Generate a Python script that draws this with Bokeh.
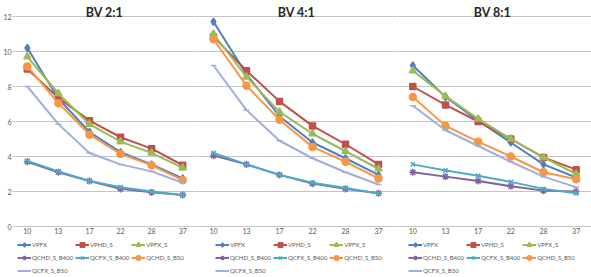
from bokeh.plotting import figure
from bokeh.layouts import row
from bokeh.models import FactorRange, Range1d, FixedTicker, Legend, LegendItem, Label
from bokeh.embed import file_html
from bokeh.resources import INLINE

# Categories along the x axis
depths = ["10", "13", "17", "22", "28", "37"]
y_ticks = [0, 2, 4, 6, 8, 10, 12]

# BV 2:1
vpfx_21 = [10.2, 7.3, 5.4, 4.25, 3.55, 2.75]
vphd_s_21 = [9.0, 7.35, 6.05, 5.1, 4.45, 3.5]
vpfx_s_21 = [9.7, 7.6, 5.85, 4.85, 4.2, 3.35]
qchd_s_b400_21 = [3.7, 3.1, 2.6, 2.15, 1.95, 1.8]
qcfx_s_b400_21 = [3.75, 3.15, 2.6, 2.25, 2.0, 1.8]
qchd_s_b50_21 = [9.15, 7.05, 5.25, 4.15, 3.5, 2.65]
qcfx_s_b50_21 = [8.0, 5.85, 4.2, 3.55, 3.15, 2.5]

# BV 4:1
vpfx_41 = [11.7, 8.7, 6.3, 4.8, 3.9, 2.95]
vphd_s_41 = [10.85, 8.9, 7.15, 5.75, 4.7, 3.55]
vpfx_s_41 = [11.0, 8.55, 6.55, 5.3, 4.3, 3.3]
qchd_s_b400_41 = [4.05, 3.55, 2.95, 2.45, 2.15, 1.9]
qcfx_s_b400_41 = [4.2, 3.55, 2.95, 2.5, 2.2, 1.88]
qchd_s_b50_41 = [10.7, 8.05, 6.1, 4.55, 3.7, 2.75]
qcfx_s_b50_41 = [9.2, 6.65, 4.9, 3.9, 3.1, 2.4]

# BV 8:1
vpfx_81 = [9.2, 7.4, 6.05, 4.8, 3.55, 2.8]
vphd_s_81 = [8.0, 6.95, 6.0, 5.0, 3.95, 3.25]
vpfx_s_81 = [8.9, 7.45, 6.15, 5.0, 3.95, 3.0]
qchd_s_b400_81 = [3.1, 2.85, 2.6, 2.3, 2.05, 2.0]
qcfx_s_b400_81 = [3.55, 3.2, 2.9, 2.55, 2.15, 1.9]
qchd_s_b50_81 = [7.4, 5.75, 4.85, 4.0, 3.1, 2.7]
qcfx_s_b50_81 = [6.9, 5.5, 4.6, 3.7, 2.85, 2.25]

series_names = ["VPFX", "VPHD_S", "VPFX_S", "QCHD_S_B400", "QCFX_S_B400",
                "QCHD_S_B50", "QCFX_S_B50"]

# colour, marker, marker size per series
styles = {
    "VPFX": ("#4F81BD", "diamond", 7),
    "VPHD_S": ("#C0504D", "square", 6),
    "VPFX_S": ("#9BBB59", "triangle", 7),
    "QCHD_S_B400": ("#8064A2", "asterisk", 7),
    "QCFX_S_B400": ("#4BACC6", "x", 6),
    "QCHD_S_B50": ("#F79646", "circle", 7),
    "QCFX_S_B50": ("#A2AEDD", "dash", 6),
}

FONT = "Lato"
TEXT_GREY = "#595959"
GRID_GREY = "#c4c4c4"
HEIGHT = 277
PX_PER_UNIT = 17.5   # vertical scale of the value axis
TOP_GAP = 16         # room above the 12 gridline for the heading
BOTTOM_GAP = 51      # room under the 0 line for tick labels and legend


def make_panel(title, series, width, pad, title_x, legend_x,
               show_y_labels, show_x_labels):
    # the frame fills the whole height; the value range is stretched so the
    # heading, the x tick labels and the legend all live inside it
    y_lo = -BOTTOM_GAP / PX_PER_UNIT
    y_hi = 12 + TOP_GAP / PX_PER_UNIT
    p = figure(width=width, height=HEIGHT,
               x_range=FactorRange(*depths, range_padding=pad),
               y_range=Range1d(y_lo, y_hi),
               output_backend="svg", toolbar_location=None,
               min_border_left=0, min_border_right=0,
               min_border_top=0, min_border_bottom=0)
    p.outline_line_color = None
    p.background_fill_color = "white"

    p.add_layout(Label(x=title_x, y=HEIGHT - 12, x_units="screen",
                       y_units="screen", text=title, text_align="center",
                       text_baseline="alphabetic", text_font=FONT,
                       text_font_size="12.5px", text_font_style="bold",
                       text_color="#262626"))

    items = []
    for name, vals in zip(series_names, series):
        color, marker, size = styles[name]
        lr = p.line(depths, vals, line_color=color, line_width=2)
        sr = p.scatter(depths, vals, marker=marker, size=size,
                       fill_color=color, line_color=color, line_width=1.5)
        items.append(LegendItem(label=name, renderers=[lr, sr]))

    legend = Legend(items=items, orientation="horizontal", ncols=3,
                    location=(legend_x, 1), padding=0, margin=0, spacing=2,
                    glyph_width=14, glyph_height=11, label_height=11,
                    label_standoff=1, label_text_font=FONT,
                    label_text_font_size="6px", label_text_color=TEXT_GREY,
                    border_line_color=None, background_fill_alpha=0)
    p.add_layout(legend)

    p.xgrid.grid_line_color = None
    p.ygrid.grid_line_color = GRID_GREY
    p.yaxis.ticker = FixedTicker(ticks=y_ticks)

    xa = p.xaxis[0]
    xa.fixed_location = 0
    xa.axis_line_color = GRID_GREY
    xa.major_tick_line_color = None
    xa.major_tick_in = 0
    xa.major_tick_out = 0
    xa.minor_tick_line_color = None
    xa.major_label_standoff = 1
    xa.major_label_text_font = FONT
    xa.major_label_text_font_size = "7px"
    xa.major_label_text_color = TEXT_GREY
    if not show_x_labels:
        xa.major_label_overrides = {d: "" for d in depths}

    ya = p.yaxis[0]
    if show_y_labels:
        ya.axis_line_color = None
        ya.major_tick_line_color = GRID_GREY
        ya.major_tick_in = 0
        ya.major_tick_out = 3
        ya.minor_tick_line_color = None
        ya.major_label_standoff = 1
        ya.major_label_text_font = FONT
        ya.major_label_text_font_size = "7px"
        ya.major_label_text_color = TEXT_GREY
    else:
        ya.visible = False
    return p


p1 = make_panel("BV 2:1", [vpfx_21, vphd_s_21, vpfx_s_21, qchd_s_b400_21,
                           qcfx_s_b400_21, qchd_s_b50_21, qcfx_s_b50_21],
                194, -0.04, 89, 2, True, True)
p2 = make_panel("BV 4:1", [vpfx_41, vphd_s_41, vpfx_s_41, qchd_s_b400_41,
                           qcfx_s_b400_41, qchd_s_b50_41, qcfx_s_b50_41],
                203, 0.025, 102, 21, False, False)
p3 = make_panel("BV 8:1", [vpfx_81, vphd_s_81, vpfx_s_81, qchd_s_b400_81,
                           qcfx_s_b400_81, qchd_s_b50_81, qcfx_s_b50_81],
                194, -0.01, 95, 11, False, True)

layout = row(p1, p2, p3, spacing=0)
open("out.html", "w").write(file_html(layout, INLINE))
